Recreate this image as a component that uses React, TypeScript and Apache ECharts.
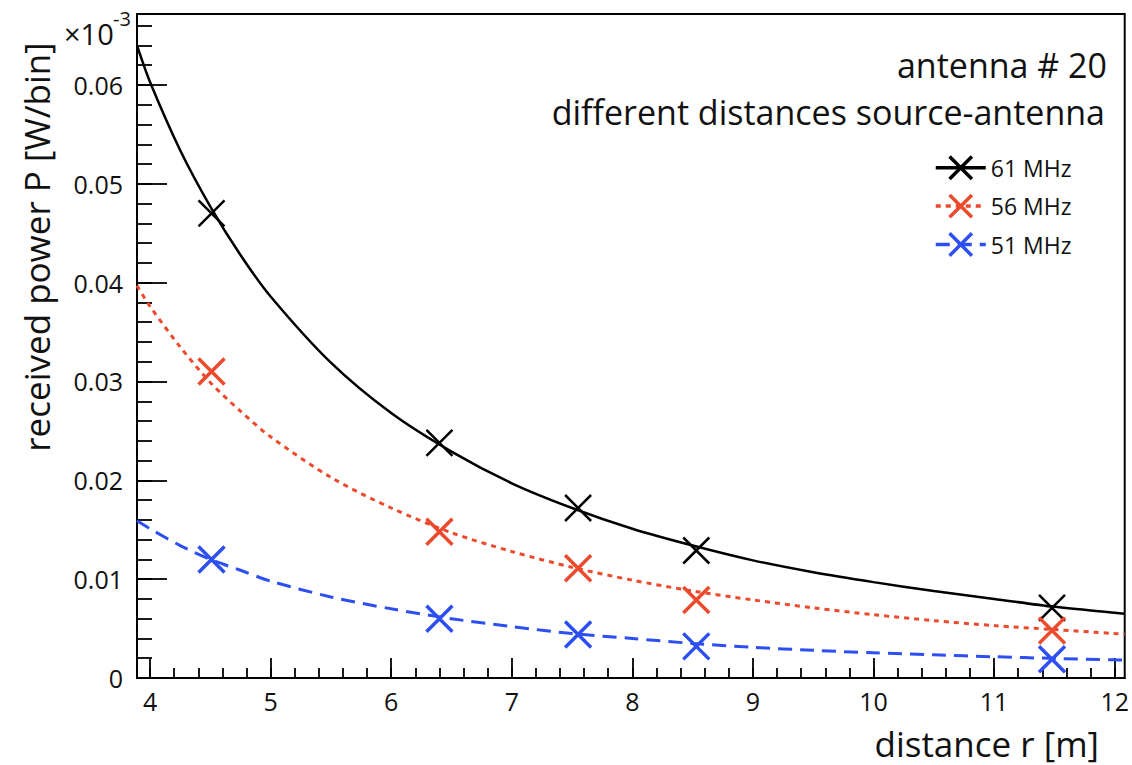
import React, { useEffect, useRef } from 'react';
import * as echarts from 'echarts';

// fitted curves
const curveX = [3.892, 4, 4.25, 4.5, 4.75, 5, 5.5, 6, 6.5, 7, 7.5, 8, 8.5, 9, 9.5, 10, 10.5, 11, 11.5, 12, 12.083];
const curve61 = [0.0640, 0.0603, 0.0534, 0.0477, 0.0428, 0.0386, 0.0319, 0.0268, 0.0229, 0.0197, 0.0172, 0.0151, 0.0134, 0.0119, 0.0107, 0.0097, 0.0088, 0.0080, 0.0072, 0.0066, 0.0065];
const curve56 = [0.0397, 0.0376, 0.0335, 0.0299, 0.0270, 0.0244, 0.0203, 0.0172, 0.0147, 0.0128, 0.0112, 0.0099, 0.0088, 0.0079, 0.0071, 0.0064, 0.0058, 0.0053, 0.0049, 0.0045, 0.00445];
const curve51 = [0.0159, 0.0151, 0.0134, 0.0120, 0.0109, 0.0098, 0.0082, 0.0070, 0.0060, 0.0052, 0.0045, 0.0040, 0.0035, 0.0031, 0.0028, 0.00255, 0.00234, 0.00215, 0.00198, 0.00184, 0.00182];

// measured points
const pointX = [4.51, 6.40, 7.55, 8.53, 11.48];
const p61 = [0.0470, 0.0238, 0.0172, 0.0129, 0.0071];
const p56 = [0.0310, 0.0148, 0.0111, 0.0079, 0.0048];
const p51 = [0.0120, 0.0060, 0.0044, 0.0032, 0.0019];

const seriesNames = ['61 MHz', '56 MHz', '51 MHz'];
const xTicks = [4, 5, 6, 7, 8, 9, 10, 11, 12];
const yTicks = [0, 0.01, 0.02, 0.03, 0.04, 0.05, 0.06];

const X_MIN = 3.892;
const X_MAX = 12.083;
const Y_MIN = 0;
const Y_MAX = 0.06718;

const FONT = '"Open Sans", sans-serif';
const CROSS = 'path://M0,0L10,10M10,0L0,10';

function minorValues(start: number, end: number, step: number, max: number) {
  const out: number[] = [];
  for (let v = start; v <= end + 1e-9; v += step) {
    const r = Math.round(v * 1e6) / 1e6;
    if (r <= max) out.push(r);
  }
  return out;
}

export default function App() {
  const ref = useRef<HTMLDivElement>(null);
  useEffect(() => {
    if (!ref.current) return;
    const chart = echarts.init(ref.current, undefined, { renderer: 'svg' });
    const zip = (xs: number[], ys: number[]) => xs.map((x, i) => [x, ys[i]]);
    const colors = ['#000000', '#ec4a2c', '#2d4ff2'];
    const lineTypes: any[] = ['solid', [5, 5], [14, 8]];
    const lineWidths = [2.5, 3, 3];
    const curves = [curve61, curve56, curve51];
    const points = [p61, p56, p51];

    const lineSeries = curves.map((c, i) => ({
      name: seriesNames[i],
      type: 'line',
      xAxisIndex: 0,
      yAxisIndex: 0,
      data: zip(curveX, c),
      smooth: 0.3,
      showSymbol: false,
      symbol: CROSS,
      symbolSize: 22,
      lineStyle: { color: colors[i], width: lineWidths[i], type: lineTypes[i] },
      itemStyle: { color: 'none', borderColor: colors[i], borderWidth: i === 0 ? 2.5 : 3.5 },
      z: 2,
    }));
    const scatterSeries = points.map((p, i) => ({
      name: seriesNames[i] + ' data',
      type: 'scatter',
      xAxisIndex: 0,
      yAxisIndex: 0,
      data: zip(pointX, p),
      symbol: CROSS,
      symbolSize: 26,
      itemStyle: { color: 'none', borderColor: colors[i], borderWidth: i === 0 ? 2.5 : 3.5, opacity: 1 },
      z: 3,
    }));

    chart.setOption({
      animation: false,
      backgroundColor: '#ffffff',
      textStyle: { fontFamily: FONT },
      grid: {
        left: 137, right: 7, top: 14, bottom: 87,
        show: true, borderColor: '#000', borderWidth: 2, backgroundColor: '#fff',
      },
      xAxis: [
        {
          type: 'value', min: X_MIN, max: X_MAX, position: 'bottom',
          axisLine: { show: true, lineStyle: { color: '#000', width: 2 } },
          axisTick: { show: true, inside: true, length: 20, customValues: xTicks, lineStyle: { color: '#000', width: 1.8 } },
          axisLabel: { show: true, customValues: xTicks, fontSize: 25, color: '#111', margin: 10, fontFamily: FONT },
          splitLine: { show: false },
        },
        {
          type: 'value', min: X_MIN, max: X_MAX, position: 'bottom',
          axisLine: { show: false },
          axisTick: { show: true, inside: true, length: 10, customValues: minorValues(4, 12, 0.2, X_MAX), lineStyle: { color: '#000', width: 1.8 } },
          axisLabel: { show: false },
          splitLine: { show: false },
        },
      ],
      yAxis: [
        {
          type: 'value', min: Y_MIN, max: Y_MAX, position: 'left',
          axisLine: { show: true, lineStyle: { color: '#000', width: 2 } },
          axisTick: { show: true, inside: true, length: 30, customValues: yTicks, lineStyle: { color: '#000', width: 1.8 } },
          axisLabel: {
            show: true, customValues: yTicks, fontSize: 25, color: '#111', margin: 14, fontFamily: FONT,
            formatter: (v: number) => (v === 0 ? '0' : v.toFixed(2)),
          },
          splitLine: { show: false },
        },
        {
          type: 'value', min: Y_MIN, max: Y_MAX, position: 'left',
          axisLine: { show: false },
          axisTick: { show: true, inside: true, length: 15, customValues: minorValues(0, 0.066, 0.002, Y_MAX), lineStyle: { color: '#000', width: 1.8 } },
          axisLabel: { show: false },
          splitLine: { show: false },
        },
      ],
      legend: {
        data: seriesNames,
        orient: 'vertical',
        left: 929,
        top: 149,
        itemWidth: 50,
        itemHeight: 28,
        itemGap: 11,
        itemStyle: { borderWidth: 3.5 },
        lineStyle: { width: 3.5 },
        textStyle: { fontSize: 23, color: '#111', fontFamily: FONT, padding: [0, 0, 0, 0] },
      },
      graphic: [
        { type: 'text', left: 64, top: 19, style: { text: '×10', fontSize: 29, fill: '#111', fontFamily: FONT } },
        { type: 'text', left: 113, top: 8, style: { text: '-3', fontSize: 20, fill: '#111', fontFamily: FONT } },
        {
          type: 'text', x: 1107, y: 65,
          style: { text: 'antenna # 20', fontSize: 34, lineHeight: 34, fill: '#111', fontFamily: FONT, align: 'right', verticalAlign: 'middle' },
        },
        {
          type: 'text', x: 1105, y: 112,
          style: { text: 'different distances source-antenna', fontSize: 34, lineHeight: 34, fill: '#111', fontFamily: FONT, align: 'right', verticalAlign: 'middle' },
        },
        {
          type: 'text', x: 1099, y: 743,
          style: { text: 'distance r [m]', fontSize: 35, fill: '#111', fontFamily: FONT, align: 'right', verticalAlign: 'middle' },
        },
        {
          type: 'text', x: 36, y: 247, rotation: Math.PI / 2,
          style: { text: 'received power P [W/bin]', fontSize: 35, fill: '#111', fontFamily: FONT, align: 'center', verticalAlign: 'middle' },
        },
      ],
      series: [...lineSeries, ...scatterSeries],
    });
    return () => chart.dispose();
  }, []);
  return <div ref={ref} style={{ position: 'fixed', left: 0, top: 0, width: 1132, height: 765, background: '#fff' }} />;
}
